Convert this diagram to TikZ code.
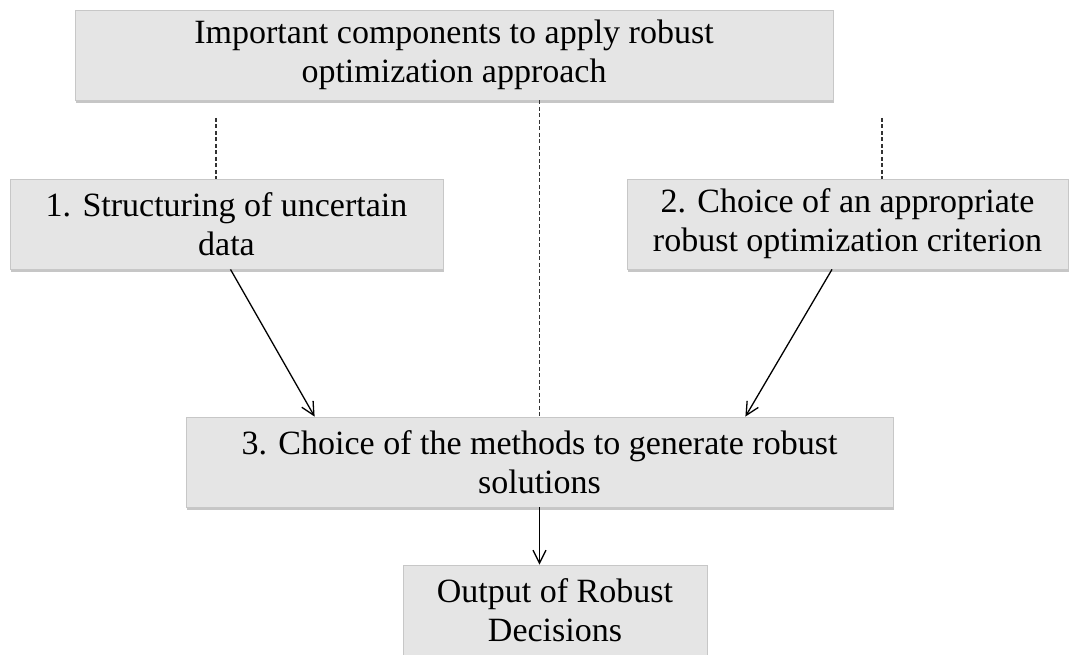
\documentclass[tikz,border=0pt]{standalone}
\usepackage{fontspec}
\setmainfont{Liberation Serif}
\usepackage{tikz}
\usetikzlibrary{%
arrows.meta,%
calc,%
shadows,%
positioning}

\tikzset{
  compbox/.style={fill=black!10,draw=black!22,line width=0.8pt,
    minimum height=90pt,align=center,inner sep=2pt,
    font=\fontsize{34}{39}\selectfont,
    drop shadow={shadow xshift=1pt,shadow yshift=-3pt,opacity=0.45}},
  dashlink/.style={dash pattern=on 4pt off 2.5pt,black!80,line width=1.3pt},
  steplink/.style={-{Straight Barb[length=13pt,width=13pt]},line width=1.3pt}
}

\begin{document}
\begin{tikzpicture}[x=1pt,y=-1pt]
\useasboundingbox (0,0) rectangle (1081,655);
\clip (0,0) rectangle (1081,655);

\node[compbox,minimum width=758pt] (top) at (454,55)
  {Important components to apply robust\\optimization approach};
\node[compbox,minimum width=433pt] (struct) at (226.5,224)
  {1. Structuring of uncertain\\data};
\node[compbox,minimum width=441pt] (crit) at (847.5,224)
  {2. Choice of an appropriate\\robust optimization criterion};
\node[compbox,minimum width=707pt] (meth) at (539.5,462)
  {3. Choice of the methods to generate robust\\solutions};
\node[compbox,minimum width=304pt] (out) at (555,610)
  {Output of Robust\\Decisions};

% dashed links from the top box
\coordinate (dl) at (216,118);
\coordinate (dr) at (882,118);
\draw[dashlink] (dl) -- (dl |- struct.north);
\draw[dashlink] (dr) -- (dr |- crit.north);
\draw[dashlink] (meth.north |- top.south) -- (meth.north);

\draw[steplink] ([xshift=4pt]struct.south) -- ([xshift=129pt]meth.north west);
\draw[steplink] ([xshift=-15.5pt]crit.south) -- ([xshift=-148pt]meth.north east);
\draw[steplink] (meth.south) -- (meth.south |- out.north);

\end{tikzpicture}
\end{document}
